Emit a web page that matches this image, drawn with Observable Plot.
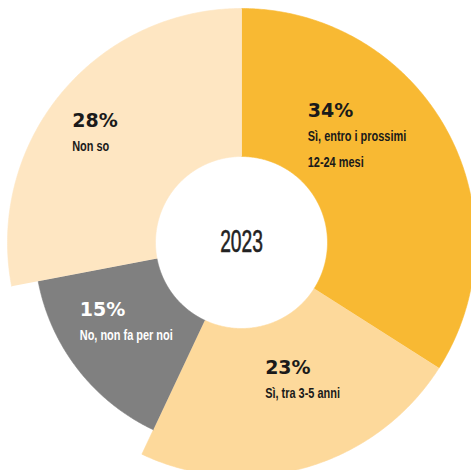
<!DOCTYPE html>
<html><head><meta charset="utf-8">
<script src="https://cdn.jsdelivr.net/npm/d3@7"></script>
<script src="https://cdn.jsdelivr.net/npm/@observablehq/plot@0.6"></script>
<style>body{margin:0;background:#fff}</style>
</head><body><div id="chart"></div>
<script>
// ---- data ----
const categories = ["Sì, entro i prossimi 12-24 mesi", "Sì, tra 3-5 anni", "No, non fa per noi", "Non so"];
const labels = ["Sì, entro i prossimi\n12-24 mesi", "Sì, tra 3-5 anni", "No, non fa per noi", "Non so"];
const values = [34, 23, 15, 28];
const centerLabel = "2023";

// ---- style / layout ----
const colors = ["#F8B933", "#FDD99B", "#808080", "#FEE6C2"];
const darkText = [true, true, false, true];
const outerR = [234, 234, 207, 234];
const innerR = 86;
const labelNudge = [[-74, 62], [-21, 36], [-46, 30], [-46, 27]];

const total = d3.sum(values);
let acc = 0;
const slices = values.map((v, i) => {
  const a0 = acc / total * 2 * Math.PI;
  acc += v;
  const a1 = acc / total * 2 * Math.PI;
  const mid = (a0 + a1) / 2;
  const rc = (innerR + outerR[i]) / 2;
  return {
    cat: categories[i], label: labels[i], value: v, a0, a1, R: outerR[i], dark: darkText[i],
    lx: rc * Math.sin(mid) + labelNudge[i][0],
    ly: rc * Math.cos(mid) + labelNudge[i][1]
  };
});

const pts = [];
for (const s of slices) {
  const n = Math.max(2, Math.ceil((s.a1 - s.a0) / (Math.PI / 360)));
  for (let k = 0; k <= n; k++) {
    const a = s.a0 + (s.a1 - s.a0) * k / n;
    pts.push({cat: s.cat, x: s.R * Math.sin(a), y: s.R * Math.cos(a)});
  }
  for (let k = n; k >= 0; k--) {
    const a = s.a0 + (s.a1 - s.a0) * k / n;
    pts.push({cat: s.cat, x: innerR * Math.sin(a), y: innerR * Math.cos(a)});
  }
}

const narrow = "'Liberation Sans', Arial, sans-serif";
const DESC_SIZE = 15, CENTER_SIZE = 31;
const chart = Plot.plot({
  width: 471, height: 470, margin: 0,
  style: {background: "#fff"},
  x: {domain: [-241, 230], axis: null},
  y: {domain: [-228, 242], axis: null},
  color: {domain: categories, range: colors},
  marks: [
    Plot.line(pts, {x: "x", y: "y", z: "cat", fill: "cat", stroke: "cat", strokeWidth: 0.6}),
    Plot.text(slices.filter(d => d.dark), {x: "lx", y: "ly", text: d => d.value + "%", textAnchor: "start", lineAnchor: "top",
      fill: "#1a1a1a", fontSize: 19, fontWeight: "bold", fontFamily: "DejaVu Sans"}),
    Plot.text(slices.filter(d => !d.dark), {x: "lx", y: "ly", text: d => d.value + "%", textAnchor: "start", lineAnchor: "top",
      fill: "#ffffff", fontSize: 19, fontWeight: "bold", fontFamily: "DejaVu Sans"}),
    Plot.text(slices.filter(d => d.dark), {x: "lx", y: "ly", text: "label", textAnchor: "start", lineAnchor: "top", dy: 20,
      lineHeight: 1.68, fill: "#1a1a1a", fontSize: DESC_SIZE, fontWeight: "bold", fontFamily: narrow}),
    Plot.text(slices.filter(d => !d.dark), {x: "lx", y: "ly", text: "label", textAnchor: "start", lineAnchor: "top", dy: 20,
      lineHeight: 1.68, fill: "#ffffff", fontSize: DESC_SIZE, fontWeight: "bold", fontFamily: narrow}),
    Plot.text([centerLabel], {x: () => 0, y: () => 0, text: d => d, fontSize: CENTER_SIZE, fill: "#222222", fontWeight: "normal",
      fontFamily: narrow, stroke: "#222222", strokeWidth: 0.6})
  ]
});
document.getElementById("chart").appendChild(chart);

// horizontally condense text in place (keeps each text's anchor point fixed)
function condense(size, s) {
  chart.querySelectorAll("g").forEach(g => {
    if (+g.getAttribute("font-size") !== size) return;
    g.querySelectorAll("text").forEach(t => {
      let tr = t.getAttribute("transform") || "";
      const x = +(t.getAttribute("x") || 0), y = +(t.getAttribute("y") || 0);
      if (x || y) { tr += ` translate(${x},${y})`; t.setAttribute("x", 0); t.setAttribute("y", 0); }
      t.setAttribute("transform", `${tr} scale(${s},1)`);
    });
  });
}
condense(DESC_SIZE, 0.73);
condense(CENTER_SIZE, 0.62);
</script>
</body></html>
